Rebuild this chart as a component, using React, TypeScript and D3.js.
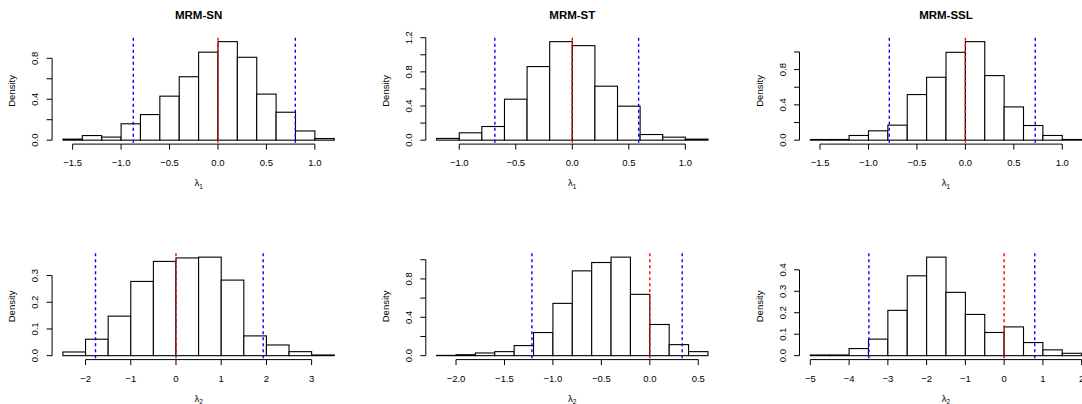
import React from "react";
import * as d3 from "d3";

// ---- data ----
const titles = ["MRM-SN", "MRM-ST", "MRM-SSL", "", "", ""];
const xlabSub = ["1", "1", "1", "2", "2", "2"];

const breaksStart = [-1.6, -1.2, -1.6, -2.5, -2.2, -5];
const binWidth = [0.2, 0.2, 0.2, 0.5, 0.2, 0.5];

const densSN1 = [0.01, 0.045, 0.03, 0.16, 0.25, 0.43, 0.62, 0.86, 0.963, 0.81, 0.45, 0.273, 0.09, 0.016];
const densST1 = [0.02, 0.086, 0.16, 0.48, 0.862, 1.154, 1.107, 0.632, 0.398, 0.066, 0.035, 0.012];
const densSSL1 = [0.0075, 0.0075, 0.053, 0.106, 0.17, 0.517, 0.713, 0.996, 1.117, 0.732, 0.377, 0.166, 0.053, 0.0075];
const densSN2 = [0.0138, 0.0616, 0.148, 0.278, 0.353, 0.366, 0.369, 0.283, 0.074, 0.04, 0.015, 0.0025];
const densST2 = [0.003, 0.01, 0.028, 0.042, 0.105, 0.241, 0.545, 0.884, 0.971, 1.027, 0.639, 0.325, 0.115, 0.042];
const densSSL2 = [0.003, 0.003, 0.033, 0.077, 0.211, 0.372, 0.459, 0.295, 0.192, 0.108, 0.134, 0.061, 0.027, 0.011];
const densities = [densSN1, densST1, densSSL1, densSN2, densST2, densSSL2];

const blueLo = [-0.874, -0.685, -0.785, -1.78, -1.217, -3.49];
const blueHi = [0.798, 0.587, 0.721, 1.928, 0.334, 0.79];
const redLine = [0, 0, 0, 0, 0, 0];

const xTicks = [
  [-1.5, -1, -0.5, 0, 0.5, 1],
  [-1, -0.5, 0, 0.5, 1],
  [-1.5, -1, -0.5, 0, 0.5, 1],
  [-2, -1, 0, 1, 2, 3],
  [-2, -1.5, -1, -0.5, 0, 0.5],
  [-5, -4, -3, -2, -1, 0, 1, 2],
];
const xTickLabels = [
  ["−1.5", "−1.0", "−0.5", "0.0", "0.5", "1.0"],
  ["−1.0", "−0.5", "0.0", "0.5", "1.0"],
  ["−1.5", "−1.0", "−0.5", "0.0", "0.5", "1.0"],
  ["−2", "−1", "0", "1", "2", "3"],
  ["−2.0", "−1.5", "−1.0", "−0.5", "0.0", "0.5"],
  ["−5", "−4", "−3", "−2", "−1", "0", "1", "2"],
];
const yTicks = [
  [0, 0.2, 0.4, 0.6, 0.8],
  [0, 0.2, 0.4, 0.6, 0.8, 1.0, 1.2],
  [0, 0.2, 0.4, 0.6, 0.8, 1.0],
  [0, 0.1, 0.2, 0.3],
  [0, 0.2, 0.4, 0.6, 0.8, 1.0],
  [0, 0.1, 0.2, 0.3, 0.4],
];
const yTickLabels = [
  ["0.0", "", "0.4", "", "0.8"],
  ["0.0", "", "0.4", "", "0.8", "", "1.2"],
  ["0.0", "", "0.4", "", "0.8", ""],
  ["0.0", "0.1", "0.2", "0.3"],
  ["0.0", "", "0.4", "", "0.8", ""],
  ["0.0", "0.1", "0.2", "0.3", "0.4"],
];

// ---- layout ----
const W = 1082;
const H = 404;
const colLeft = [52.1, 425.8, 799.5];
const plotW = 293;
const rowTop = [37.7, 253.2];
const plotH = 106.4;
const FONT = "'Liberation Sans', Arial, Helvetica, sans-serif";

function Panel({ i }: { i: number }) {
  const col = i % 3;
  const row = Math.floor(i / 3);
  const left = colLeft[col];
  const top = rowTop[row];
  const bottom = top + plotH;
  const dens = densities[i];
  const n = dens.length;
  const x0 = breaksStart[i];
  const bw = binWidth[i];
  const x1 = x0 + n * bw;
  const xr = x1 - x0;
  const ymax = d3.max(dens) as number;
  const x = d3.scaleLinear().domain([x0 - 0.04 * xr, x1 + 0.04 * xr]).range([left, left + plotW]);
  const y = d3.scaleLinear().domain([-0.04 * ymax, 1.04 * ymax]).range([bottom, top]);
  const xt = xTicks[i];
  const yt = yTicks[i];
  const tick = 5.5;
  const cx = left + plotW / 2;
  return (
    <g>
      <defs>
        <clipPath id={`clip${i}`}>
          <rect x={0} y={top - 2} width={W} height={plotH + 4} />
        </clipPath>
      </defs>
      {titles[i] && (
        <text x={cx} y={19} textAnchor="middle" fontFamily={FONT} fontWeight="bold" fontSize={11.5}>
          {titles[i]}
        </text>
      )}
      {/* bars */}
      {dens.map((d, k) => {
        const a = x0 + k * bw;
        return (
          <rect
            key={k}
            x={x(a)}
            y={y(d)}
            width={x(a + bw) - x(a)}
            height={y(0) - y(d)}
            fill="white"
            stroke="black"
            strokeWidth={1.1}
          />
        );
      })}
      {/* ablines */}
      <g clipPath={`url(#clip${i})`}>
        {[blueLo[i], blueHi[i]].map((v, k) => (
          <line key={k} x1={x(v)} x2={x(v)} y1={top} y2={bottom} stroke="#0000ff" strokeWidth={1.4} strokeDasharray="3,3" />
        ))}
        <line x1={x(redLine[i])} x2={x(redLine[i])} y1={top} y2={bottom} stroke="#ff0000" strokeWidth={1.4} strokeDasharray="3,3" />
      </g>
      {/* x axis */}
      <line x1={x(xt[0])} x2={x(xt[xt.length - 1])} y1={bottom} y2={bottom} stroke="black" strokeWidth={1} />
      {xt.map((v, k) => (
        <g key={k}>
          <line x1={x(v)} x2={x(v)} y1={bottom} y2={bottom + tick} stroke="black" strokeWidth={1} />
          <text x={x(v)} y={bottom + 22} textAnchor="middle" fontFamily={FONT} fontSize={9.5}>
            {xTickLabels[i][k]}
          </text>
        </g>
      ))}
      <text x={cx} y={bottom + 42} textAnchor="middle" fontFamily={FONT} fontSize={9.5}>
        λ<tspan fontSize={6.5} dy={2.5}>{xlabSub[i]}</tspan>
      </text>
      {/* y axis */}
      <line x1={left} x2={left} y1={y(yt[0])} y2={y(yt[yt.length - 1])} stroke="black" strokeWidth={1} />
      {yt.map((v, k) => (
        <g key={k}>
          <line x1={left - tick} x2={left} y1={y(v)} y2={y(v)} stroke="black" strokeWidth={1} />
          {yTickLabels[i][k] && (
            <text
              transform={`translate(${left - 14},${y(v)}) rotate(-90)`}
              textAnchor="middle"
              fontFamily={FONT}
              fontSize={9.5}
            >
              {yTickLabels[i][k]}
            </text>
          )}
        </g>
      ))}
      <text
        transform={`translate(${left - 37},${(top + bottom) / 2}) rotate(-90)`}
        textAnchor="middle"
        fontFamily={FONT}
        fontSize={9.5}
      >
        Density
      </text>
    </g>
  );
}

export default function App() {
  return (
    <svg width={W} height={H} style={{ position: "absolute", left: 0, top: 0, background: "white" }}>
      <rect width={W} height={H} fill="white" />
      {densities.map((_, i) => (
        <Panel key={i} i={i} />
      ))}
    </svg>
  );
}
